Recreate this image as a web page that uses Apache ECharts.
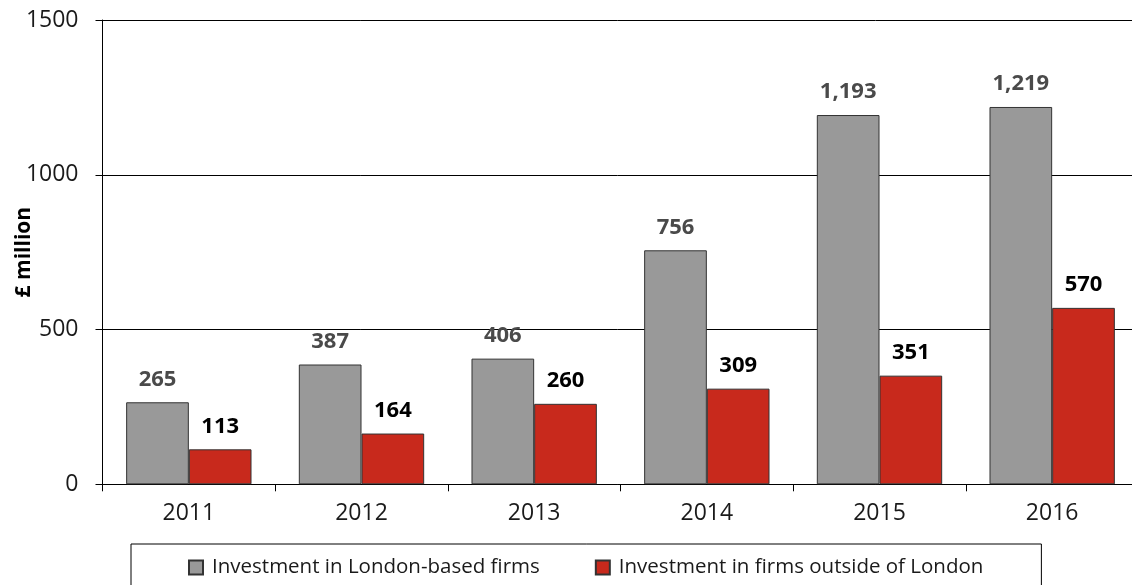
<!DOCTYPE html>
<html>
<head>
<meta charset="utf-8">
<script src="https://cdn.jsdelivr.net/npm/echarts@6/dist/echarts.min.js"></script>
<style>
  html, body { margin: 0; padding: 0; background: #fff; }
  #chart { width: 1132px; height: 585px; }
</style>
</head>
<body>
<div id="chart"></div>
<script>
// data
var years = ['2011', '2012', '2013', '2014', '2015', '2016'];
var londonFirms = [265, 387, 406, 756, 1193, 1219];
var outsideFirms = [113, 164, 260, 309, 351, 570];
var seriesNames = ['Investment in London-based firms', 'Investment in firms outside of London'];

var FONT = 'Open Sans';

function withCommas(p) {
  return String(p.value).replace(/\B(?=(\d{3})+(?!\d))/g, ',');
}

var chart = echarts.init(document.getElementById('chart'));

chart.setOption({
  backgroundColor: '#ffffff',
  animation: false,
  textStyle: { fontFamily: FONT },
  grid: {
    left: 102.5,
    right: -6.5,
    top: 20,
    bottom: 100.7,
    containLabel: false,
    outerBoundsMode: 'none'
  },
  legend: {
    data: seriesNames,
    left: 131,
    top: 544,
    orient: 'horizontal',
    itemWidth: 14,
    itemHeight: 14,
    itemGap: 55,
    padding: [13, 58, 20, 57],
    borderColor: '#000',
    borderWidth: 1,
    icon: 'rect',
    textStyle: { fontFamily: FONT, fontSize: 20.5, color: '#1a1a1a', padding: [0, 0, 0, 4] }
  },
  xAxis: {
    type: 'category',
    data: years,
    axisLine: { lineStyle: { color: '#000', width: 1 } },
    axisTick: { show: true, length: 7, inside: false, lineStyle: { color: '#000' } },
    axisLabel: { fontFamily: FONT, fontSize: 23, color: '#1a1a1a', margin: 18 }
  },
  yAxis: {
    type: 'value',
    min: 0,
    max: 1500,
    interval: 500,
    name: '£ million',
    nameLocation: 'middle',
    nameRotate: 90,
    nameGap: 68,
    nameMoveOverlap: false,
    nameTextStyle: { fontFamily: FONT, fontSize: 21, fontWeight: 'bold', color: '#000' },
    axisLine: { show: true, lineStyle: { color: '#000', width: 1 } },
    axisTick: { show: true, length: 7, lineStyle: { color: '#000' } },
    axisLabel: {
      fontFamily: FONT, fontSize: 23, color: '#1a1a1a', margin: 24,
      formatter: function (v) { return String(v); }
    },
    splitLine: { show: true, lineStyle: { color: '#000', width: 1 } }
  },
  series: [
    {
      name: seriesNames[0],
      type: 'bar',
      data: londonFirms,
      barGap: '0%',
      barCategoryGap: '27.4%',
      itemStyle: { color: '#999999', borderColor: '#333', borderWidth: 1 },
      label: {
        show: true,
        position: 'top',
        distance: 12,
        formatter: withCommas,
        fontFamily: FONT,
        fontSize: 22,
        fontWeight: 'bold',
        color: '#4a4a4a'
      }
    },
    {
      name: seriesNames[1],
      type: 'bar',
      data: outsideFirms,
      barGap: '0%',
      barCategoryGap: '27.4%',
      itemStyle: { color: '#c8291c', borderColor: '#333', borderWidth: 1 },
      label: {
        show: true,
        position: 'top',
        distance: 12,
        formatter: withCommas,
        fontFamily: FONT,
        fontSize: 22,
        fontWeight: 'bold',
        color: '#000'
      }
    }
  ]
});
</script>
</body>
</html>
